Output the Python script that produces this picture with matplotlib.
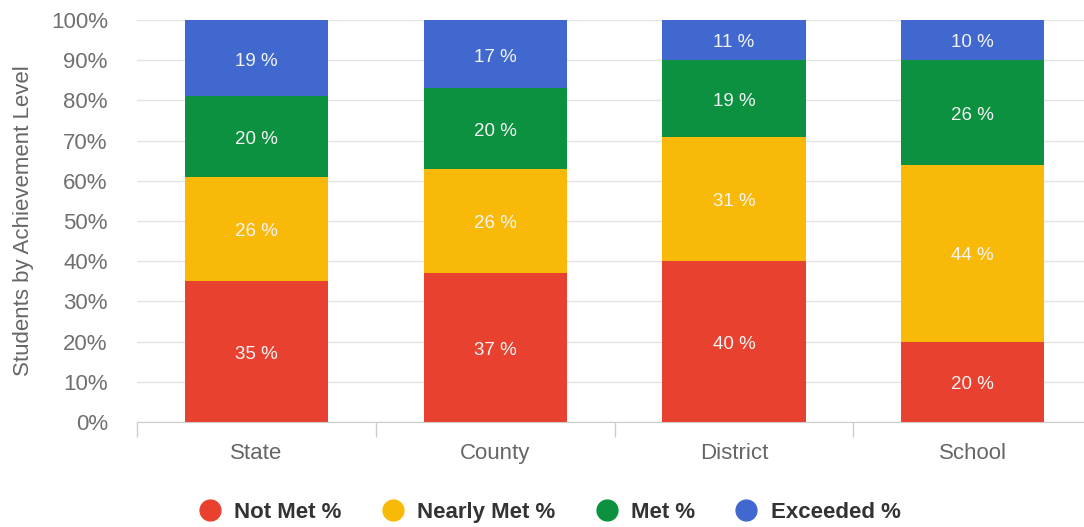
import matplotlib
matplotlib.use('Agg')
import matplotlib.pyplot as plt
from matplotlib.lines import Line2D
import numpy as np

# achievement levels per group (percent of students)
groups = ['State', 'County', 'District', 'School']
levels = ['Not Met %', 'Nearly Met %', 'Met %', 'Exceeded %']
not_met = [35, 37, 40, 20]
nearly_met = [26, 26, 31, 44]
met = [20, 20, 19, 26]
exceeded = [19, 17, 11, 10]
colors = ['#e8412f', '#f9b908', '#0b9140', '#4068cf']

plt.rcParams['font.family'] = ['Liberation Sans', 'DejaVu Sans']

fig = plt.figure(figsize=(10.84, 5.27), dpi=100)
ax = fig.add_axes([0.1264, 0.1992, 0.881, 0.7628])

x = np.arange(len(groups))
bottom = np.zeros(len(groups))
for vals, col in zip([not_met, nearly_met, met, exceeded], colors):
	vals = np.array(vals, dtype=float)
	ax.bar(x, vals, 0.6, bottom=bottom, color=col, zorder=3)
	top = np.minimum(bottom + vals, 100)
	for xi, b, t, v in zip(x, bottom, top, vals):
		ax.text(xi, (b + t) / 2 - 0.7, '{:.0f} %'.format(v), ha='center', va='center',
				color='#f4f4f4', fontsize=13.5, zorder=4)
	bottom = bottom + vals

ax.set_xlim(-0.5, 3.5)
ax.set_ylim(0, 100)

yt = range(0, 101, 10)
ax.set_yticks(yt)
ax.set_yticklabels(['{}%'.format(v) for v in yt], color='#707070', fontsize=16)
ax.tick_params(axis='y', length=0, pad=21)
ax.yaxis.grid(True, color='#e3e3e3', linewidth=1, zorder=0)

ax.set_xticks(x)
ax.set_xticklabels(groups, color='#666666', fontsize=16)
ax.set_xticks(np.arange(-0.5, 4, 1), minor=True)
ax.tick_params(axis='x', which='major', length=0, pad=15)
ax.tick_params(axis='x', which='minor', length=11, color='#cccccc', width=1)

for s in ['top', 'right', 'left']:
	ax.spines[s].set_visible(False)
ax.spines['bottom'].set_color('#cccccc')

ax.set_ylabel('Students by Achievement Level', color='#666666', fontsize=16)
ax.yaxis.set_label_coords(-0.108, 0.5)

handles = [Line2D([], [], marker='o', linestyle='none', markersize=15,
				  markerfacecolor=c, markeredgecolor=c) for c in colors]
leg = fig.legend(handles, levels, loc='center', bbox_to_anchor=(0.507, 0.028),
				 ncol=4, frameon=False, handlelength=1.0, handletextpad=0.6,
				 columnspacing=1.8, prop={'weight': 'bold', 'size': 16})
for t in leg.get_texts():
	t.set_color('#333333')

plt.savefig('out.png', dpi=100)
